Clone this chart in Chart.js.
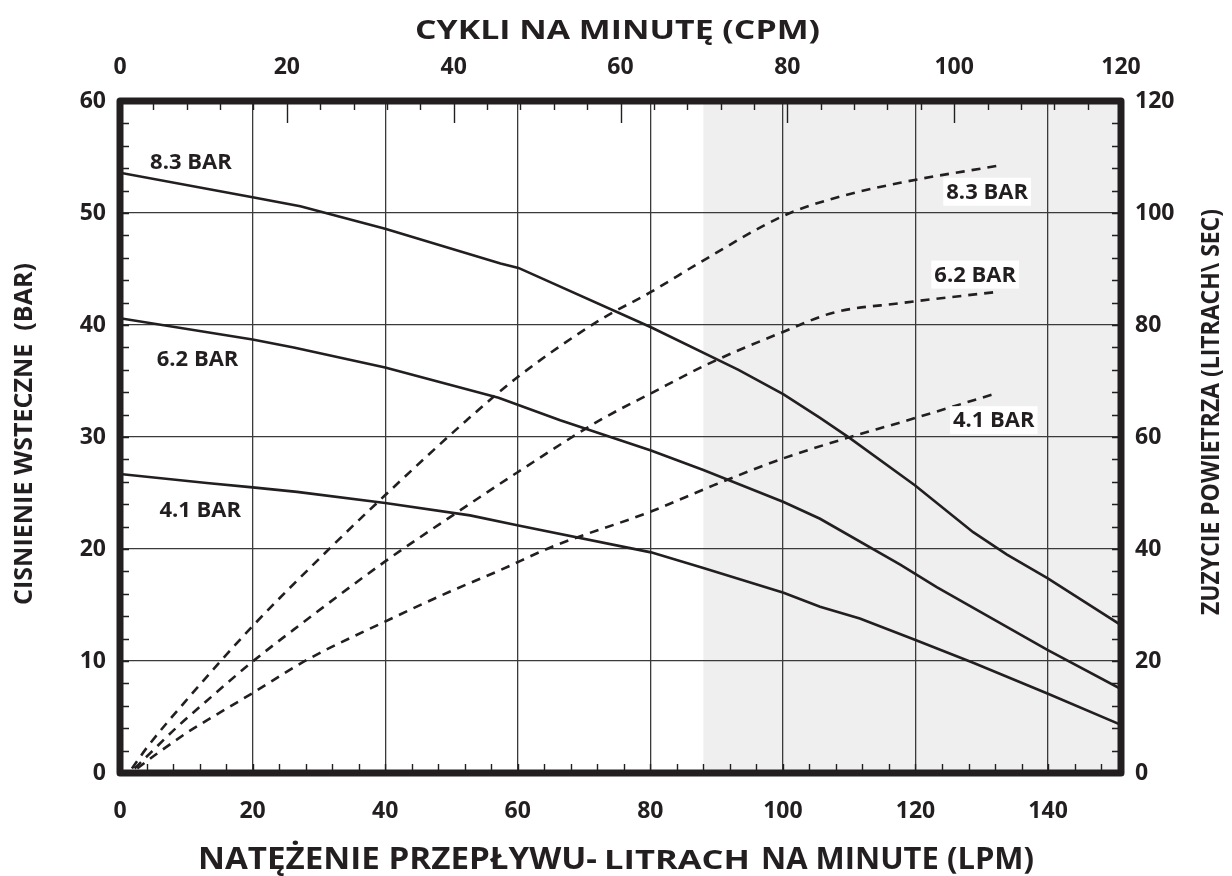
<!DOCTYPE html>
<html>
<head>
<meta charset="utf-8">
<script src="https://cdn.jsdelivr.net/npm/chart.js@4.4.0/dist/chart.umd.min.js"></script>
<style>
html,body{margin:0;padding:0;background:#fff;}
#wrap{width:1232px;height:876px;position:relative;}
</style>
</head>
<body>
<div id="wrap"><canvas id="c" width="1232" height="876"></canvas></div>
<script>
// ---------- tick labels ----------
const lpmTicks = [0, 20, 40, 60, 80, 100, 120, 140];
const cpmTicks = [0, 20, 40, 60, 80, 100, 120];
const barTicks = [0, 10, 20, 30, 40, 50, 60];
const airTicks = [0, 20, 40, 60, 80, 100, 120];

// ---------- pressure curves (left axis, BAR) ----------
const p83_lpm = [0, 20, 27.2, 40, 57.4, 60.1, 80.1, 93.3, 100.1, 105.6, 110.1, 119.9, 128.7, 133.8, 139.9, 151];
const p83_bar = [53.6, 51.4, 50.6, 48.6, 45.5, 45.1, 39.8, 36.0, 33.8, 31.7, 29.9, 25.7, 21.5, 19.5, 17.4, 13.2];

const p62_lpm = [0, 20, 26.2, 40, 57.1, 66.4, 80.1, 88, 100.1, 105.6, 117.7, 123.2, 139.9, 151];
const p62_bar = [40.6, 38.7, 38.0, 36.2, 33.5, 31.5, 28.8, 27.05, 24.2, 22.7, 18.6, 16.6, 11.0, 7.5];

const p41_lpm = [0, 13.1, 20, 26.7, 40, 52.8, 60.1, 80.1, 88, 100.1, 105.6, 111.6, 119.9, 128.7, 139.9, 151];
const p41_bar = [26.7, 25.9, 25.5, 25.1, 24.1, 23.0, 22.1, 19.7, 18.3, 16.1, 14.85, 13.8, 11.9, 9.85, 7.1, 4.3];

// ---------- air consumption curves (right axis) ----------
const a83_lpm = [1.8, 4.1, 10.6, 19.9, 31.2, 39.9, 52.3, 60.1, 72.4, 80.1, 88.1, 100.1, 107.6, 117.7, 132.2];
const a83_val = [0.8, 4.6, 13.8, 26.1, 39.6, 49.5, 63.0, 70.8, 80.9, 85.9, 91.6, 99.5, 102.6, 105.4, 108.4];

const a62_lpm = [2.2, 4.6, 8.6, 13.1, 19.9, 27.2, 39.9, 50.3, 60.1, 72.4, 80.1, 89, 100.1, 107.6, 117.7, 132.2];
const a62_val = [0.8, 3.6, 8.2, 12.9, 19.8, 26.5, 37.7, 46.1, 53.8, 63.0, 67.8, 73.2, 78.8, 82.2, 83.9, 85.9];

const a41_lpm = [2.6, 5.4, 10.1, 13.1, 19.9, 28.2, 39.9, 49.8, 57.4, 65.2, 80.1, 89.6, 100.1, 109.6, 117.7, 132.2];
const a41_val = [0.8, 3.3, 7.2, 9.4, 14.2, 20.2, 27.0, 32.4, 36.25, 40.4, 46.7, 51.4, 56.2, 59.8, 62.6, 67.8];

// ---------- curve labels (data coordinates: LPM, BAR) ----------
const labelText = ['8.3 BAR', '6.2 BAR', '4.1 BAR', '8.3 BAR', '6.2 BAR', '4.1 BAR'];
const labelLpm  = [10.7, 11.7, 12.1, 130.8, 129.0, 131.8];
const labelBar  = [54.55, 37.0, 23.5, 51.9, 44.5, 31.5];
const labelBox  = [false, false, false, true, true, true];

const shadeStartLpm = 88;

const INK = '#231f20';
const FONT = "'Open Sans', sans-serif";

const zip = (xs, ys) => xs.map((x, i) => ({x: x, y: ys[i]}));
const setTicks = arr => scale => { scale.ticks = arr.map(v => ({value: v})); };

function solid(data) {
  return {data: data, yAxisID: 'y', xAxisID: 'x', borderColor: INK, borderWidth: 2.6,
          pointRadius: 0, tension: 0, fill: false};
}
function dashed(data) {
  return {data: data, yAxisID: 'y2', xAxisID: 'x', borderColor: INK, borderWidth: 2.6,
          borderDash: [9, 7], pointRadius: 0, cubicInterpolationMode: 'monotone', fill: false};
}

function fitH(ctx, text, size, x0, x1, base) {
  ctx.save();
  ctx.font = 'bold ' + size + 'px ' + FONT;
  ctx.textAlign = 'left'; ctx.textBaseline = 'alphabetic';
  const w = ctx.measureText(text).width;
  ctx.translate(x0, base); ctx.scale((x1 - x0) / w, 1);
  ctx.fillText(text, 0, 0);
  ctx.restore();
}
function fitV(ctx, text, size, yTop, yBot, baseX) {
  ctx.save();
  ctx.font = 'bold ' + size + 'px ' + FONT;
  ctx.textAlign = 'left'; ctx.textBaseline = 'alphabetic';
  const w = ctx.measureText(text).width;
  ctx.translate(baseX, yBot); ctx.rotate(-Math.PI / 2); ctx.scale((yBot - yTop) / w, 1);
  ctx.fillText(text, 0, 0);
  ctx.restore();
}

const decor = {
  id: 'decor',
  beforeDraw(chart) {
    const {ctx, chartArea: a, scales} = chart;
    ctx.save();
    ctx.fillStyle = '#ffffff';
    ctx.fillRect(0, 0, chart.width, chart.height);
    const xs = scales.x.getPixelForValue(shadeStartLpm);
    ctx.fillStyle = '#efefef';
    ctx.fillRect(xs, a.top, a.right - xs, a.bottom - a.top);
    ctx.restore();
  },
  afterDatasetsDraw(chart) {
    const {ctx, chartArea: a, scales} = chart;
    ctx.save();
    ctx.strokeStyle = INK; ctx.lineWidth = 1.4;
    ctx.beginPath();
    for (let v = 0; v <= 60; v += 2) {
      const y = Math.round(scales.y.getPixelForValue(v)) + 0.5;
      ctx.moveTo(a.left, y); ctx.lineTo(a.left + 9, y);
    }
    for (let v = 0; v <= 120; v += 4) {
      const y = Math.round(scales.y2.getPixelForValue(v)) + 0.5;
      ctx.moveTo(a.right - 9, y); ctx.lineTo(a.right, y);
    }
    for (let v = 0; v <= 150; v += 4) {
      const x = Math.round(scales.x.getPixelForValue(v)) + 0.5;
      ctx.moveTo(x, a.bottom - 9); ctx.lineTo(x, a.bottom);
    }
    for (let v = 0; v <= 120; v += 4) {
      const x = Math.round(scales.x2.getPixelForValue(v)) + 0.5;
      ctx.moveTo(x, a.top); ctx.lineTo(x, a.top + (v % 20 === 0 ? 22 : 9));
    }
    ctx.stroke();

    // curve labels
    ctx.font = 'bold 22px ' + FONT;
    ctx.textAlign = 'center'; ctx.textBaseline = 'middle';
    labelText.forEach((t, i) => {
      const x = scales.x.getPixelForValue(labelLpm[i]);
      const y = scales.y.getPixelForValue(labelBar[i]);
      if (labelBox[i]) {
        const w = ctx.measureText(t).width + 6;
        ctx.fillStyle = '#ffffff';
        ctx.fillRect(x - w / 2, y - 14, w, 28);
      }
      ctx.fillStyle = INK;
      ctx.fillText(t, x, y + 1);
    });

    // frame
    ctx.lineWidth = 7; ctx.lineJoin = 'round';
    ctx.strokeRect(a.left, a.top, a.right - a.left, a.bottom - a.top);
    ctx.restore();
  },
  afterDraw(chart) {
    const ctx = chart.ctx;
    ctx.save();
    ctx.fillStyle = INK;
    fitH(ctx, 'CYKLI NA MINUTĘ (CPM)', 26, 415, 820, 38.5);
    fitH(ctx, 'NATĘŻENIE PRZEPŁYWU-', 30, 198, 597, 868.5);
    fitH(ctx, 'LITRACH', 26, 604, 750, 868.5);
    fitH(ctx, 'NA MINUTE (LPM)', 30, 761, 1034, 868.5);
    fitV(ctx, 'CISNIENIE WSTECZNE  (BAR)', 25, 263, 605, 32);
    fitV(ctx, 'ZUZYCIE POWIETRZA (LITRACH\\ SEC)', 25, 209, 615, 1219);
    ctx.restore();
  }
};

const tickFont = {family: FONT, size: 23, weight: 'bold'};

new Chart(document.getElementById('c'), {
  type: 'line',
  data: {
    datasets: [
      solid(zip(p83_lpm, p83_bar)),
      solid(zip(p62_lpm, p62_bar)),
      solid(zip(p41_lpm, p41_bar)),
      dashed(zip(a83_lpm, a83_val)),
      dashed(zip(a62_lpm, a62_val)),
      dashed(zip(a41_lpm, a41_val))
    ]
  },
  options: {
    responsive: false,
    animation: false,
    devicePixelRatio: 1,
    layout: {padding: 0},
    plugins: {legend: {display: false}, tooltip: {enabled: false}, title: {display: false}},
    scales: {
      x: {
        type: 'linear', position: 'bottom', min: 0, max: 151,
        afterBuildTicks: setTicks(lpmTicks),
        afterFit: s => { s.height = 103; },
        grid: {color: '#3a3a3a', lineWidth: 1.3, drawTicks: false},
        border: {display: false},
        ticks: {color: INK, font: tickFont, padding: 25, maxRotation: 0, autoSkip: false}
      },
      x2: {
        type: 'linear', position: 'top', min: 0, max: 120,
        afterBuildTicks: setTicks(cpmTicks),
        afterFit: s => { s.height = 101; },
        grid: {display: false, drawTicks: false},
        border: {display: false},
        ticks: {color: INK, font: tickFont, padding: 20, maxRotation: 0, autoSkip: false}
      },
      y: {
        type: 'linear', position: 'left', min: 0, max: 60,
        afterBuildTicks: setTicks(barTicks),
        afterFit: s => { s.width = 120; },
        grid: {color: '#3a3a3a', lineWidth: 1.3, drawTicks: false},
        border: {display: false},
        ticks: {color: INK, font: tickFont, padding: 14, autoSkip: false}
      },
      y2: {
        type: 'linear', position: 'right', min: 0, max: 120,
        afterBuildTicks: setTicks(airTicks),
        afterFit: s => { s.width = 111; },
        grid: {display: false, drawTicks: false},
        border: {display: false},
        ticks: {color: INK, font: tickFont, padding: 14, autoSkip: false}
      }
    }
  },
  plugins: [decor]
});
</script>
</body>
</html>
